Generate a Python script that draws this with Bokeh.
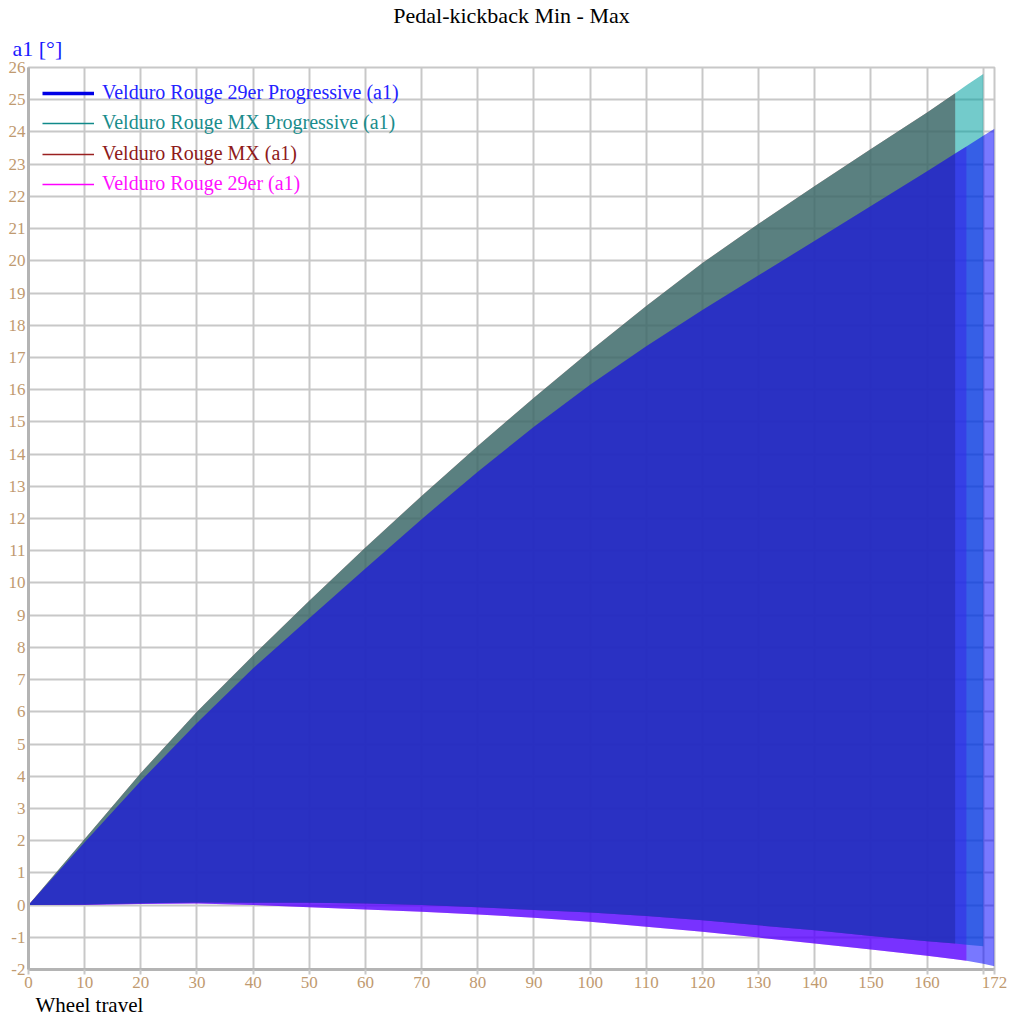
from bokeh.plotting import figure
from bokeh.models import ColumnDataSource, FixedTicker, Legend, LegendItem, Title, Range1d
from bokeh.embed import file_html
from bokeh.resources import INLINE

# ---------------- data ----------------
chart_title = "Pedal-kickback Min - Max"
y_title = "a1 [°]"
x_title = "Wheel travel"

x_tick_values = [0, 10, 20, 30, 40, 50, 60, 70, 80, 90, 100, 110, 120, 130, 140, 150, 160, 170, 172]
y_tick_values = list(range(-2, 27))

names = ["Velduro Rouge 29er Progressive (a1)", "Velduro Rouge MX Progressive (a1)",
         "Velduro Rouge MX (a1)", "Velduro Rouge 29er (a1)"]

# Velduro Rouge 29er (a1)
x_29er = [0, 10, 20, 30, 40, 50, 60, 70, 80, 90, 100, 110, 120, 130, 140, 150, 160, 165, 167]
max_29er = [0, 1.95, 3.85, 5.65, 7.35, 8.9, 10.45, 11.98, 13.45, 14.85, 16.15, 17.35, 18.47, 19.55, 20.62, 21.7, 22.78, 23.33, 23.55]
min_29er = [0, 0.0, 0.03, 0.05, 0.0, -0.07, -0.14, -0.21, -0.29, -0.39, -0.52, -0.67, -0.83, -1.01, -1.19, -1.38, -1.57, -1.68, -1.73]

# Velduro Rouge 29er Progressive (a1)
x_29er_prog = [0, 10, 20, 30, 40, 50, 60, 70, 80, 90, 100, 110, 120, 130, 140, 150, 160, 165, 167, 170, 172]
max_29er_prog = [0, 1.95, 3.85, 5.65, 7.35, 8.9, 10.45, 11.98, 13.45, 14.85, 16.15, 17.35, 18.47, 19.55, 20.62, 21.7, 22.78, 23.33, 23.55, 23.88, 24.1]
min_29er_prog = [0, 0.0, 0.03, 0.05, 0.0, -0.07, -0.14, -0.21, -0.29, -0.39, -0.52, -0.67, -0.83, -1.01, -1.19, -1.38, -1.57, -1.68, -1.73, -1.82, -1.9]

# Velduro Rouge MX (a1)
x_mx = [0, 10, 20, 30, 40, 50, 60, 70, 80, 90, 100, 110, 120, 130, 140, 150, 160, 165]
max_mx = [0, 2.05, 4.1, 6.0, 7.75, 9.45, 11.1, 12.7, 14.25, 15.75, 17.2, 18.6, 19.93, 21.15, 22.32, 23.47, 24.6, 25.2]
min_mx = [0, 0.02, 0.06, 0.08, 0.07, 0.07, 0.05, 0.0, -0.07, -0.15, -0.23, -0.34, -0.47, -0.63, -0.78, -0.96, -1.12, -1.19]

# Velduro Rouge MX Progressive (a1)
x_mx_prog = [0, 10, 20, 30, 40, 50, 60, 70, 80, 90, 100, 110, 120, 130, 140, 150, 160, 165, 167, 170]
max_mx_prog = [0, 2.05, 4.1, 6.0, 7.75, 9.45, 11.1, 12.7, 14.25, 15.75, 17.2, 18.6, 19.93, 21.15, 22.32, 23.47, 24.6, 25.2, 25.45, 25.8]
min_mx_prog = [0, 0.02, 0.06, 0.08, 0.07, 0.07, 0.05, 0.0, -0.07, -0.15, -0.23, -0.34, -0.47, -0.63, -0.78, -0.96, -1.12, -1.19, -1.23, -1.28]

# ---------------- figure ----------------
SERIF = "Liberation Serif"
TICK_COLOR = "#bf9a70"
GRID = "#c8c8c8"

p = figure(width=1008, height=1016, output_backend="svg", toolbar_location=None,
           x_range=Range1d(0, 172), y_range=Range1d(-2, 26),
           min_border_left=28, min_border_right=14, min_border_top=0, min_border_bottom=0)
p.title.text = ""
p.title.visible = False

p.add_layout(Title(text=y_title, align="left", offset=-16, text_font=SERIF, text_font_size="22px",
                   text_color="#1a1aff", text_font_style="normal", standoff=13), "above")
p.add_layout(Title(text=chart_title, align="center", text_font=SERIF, text_font_size="22px",
                   text_color="#000000", text_font_style="normal", standoff=0), "above")
p.add_layout(Title(text=x_title, align="left", offset=7, text_font=SERIF, text_font_size="21px",
                   text_color="#000000", text_font_style="normal", standoff=0), "below")

p.background_fill_color = "white"
p.border_fill_color = "white"
p.outline_line_color = GRID
p.outline_line_width = 2

p.xaxis.ticker = FixedTicker(ticks=x_tick_values)
p.xaxis.major_label_overrides = {170: ""}
p.yaxis.ticker = FixedTicker(ticks=y_tick_values)
p.yaxis.major_label_overrides = {t: str(t) for t in y_tick_values}
p.xgrid.ticker = FixedTicker(ticks=x_tick_values)
p.ygrid.ticker = FixedTicker(ticks=y_tick_values)
for ax in (p.xaxis[0], p.yaxis[0]):
    ax.axis_line_color = "#b4b4b4"
    ax.axis_line_width = 3
    ax.major_tick_line_color = GRID
    ax.major_tick_line_width = 2
    ax.major_tick_in = 0
    ax.minor_tick_line_color = None
    ax.major_label_text_font = SERIF
    ax.major_label_text_font_size = "17px"
    ax.major_label_text_color = TICK_COLOR
p.xaxis[0].major_tick_out = 5
p.xaxis[0].major_label_standoff = 2
p.yaxis[0].major_tick_out = 0
p.yaxis[0].major_label_standoff = 3
p.xgrid.grid_line_color = GRID
p.ygrid.grid_line_color = GRID
p.xgrid.grid_line_width = 2
p.ygrid.grid_line_width = 2

# fills (drawn in this order)
src_29er = ColumnDataSource(dict(x=x_29er, lo=min_29er, hi=max_29er))
src_mx = ColumnDataSource(dict(x=x_mx, lo=min_mx, hi=max_mx))
src_mx_prog = ColumnDataSource(dict(x=x_mx_prog, lo=min_mx_prog, hi=max_mx_prog))
src_29er_prog = ColumnDataSource(dict(x=x_29er_prog, lo=min_29er_prog, hi=max_29er_prog))

p.varea(x="x", y1="lo", y2="hi", source=src_29er, fill_color="#ff00ff", fill_alpha=0.58)
p.varea(x="x", y1="lo", y2="hi", source=src_mx, fill_color="#aa0000", fill_alpha=0.65)
p.varea(x="x", y1="lo", y2="hi", source=src_mx_prog, fill_color="#00a0a0", fill_alpha=0.55)
p.varea(x="x", y1="lo", y2="hi", source=src_29er_prog, fill_color="#0000ff", fill_alpha=0.53)

# legend-only line renderers
line_specs = [
    (src_29er_prog, "#0000e6", 3.5, "#2323ff"),
    (src_mx_prog, "#108a8a", 1.5, "#1a8c8c"),
    (src_mx, "#9a2020", 1.5, "#8e1a1a"),
    (src_29er, "#ff00ff", 1.5, "#ff10ff"),
]
frame_h = 903
for i, (src, lc, lw, tc) in enumerate(line_specs):
    r = p.line(x="x", y="hi", source=src, line_color=lc, line_width=lw)
    r.visible = False
    lg = Legend(items=[LegendItem(label=names[i], renderers=[r])],
                location=(14, frame_h - 38 - round(30.4 * i)),
                background_fill_alpha=0, border_line_color=None,
                padding=0, margin=0, spacing=0,
                glyph_width=52, glyph_height=20, label_height=20, label_standoff=8,
                label_text_font=SERIF, label_text_font_size="20px", label_text_color=tc)
    p.add_layout(lg)

open("out.html", "w").write(file_html(p, INLINE))
